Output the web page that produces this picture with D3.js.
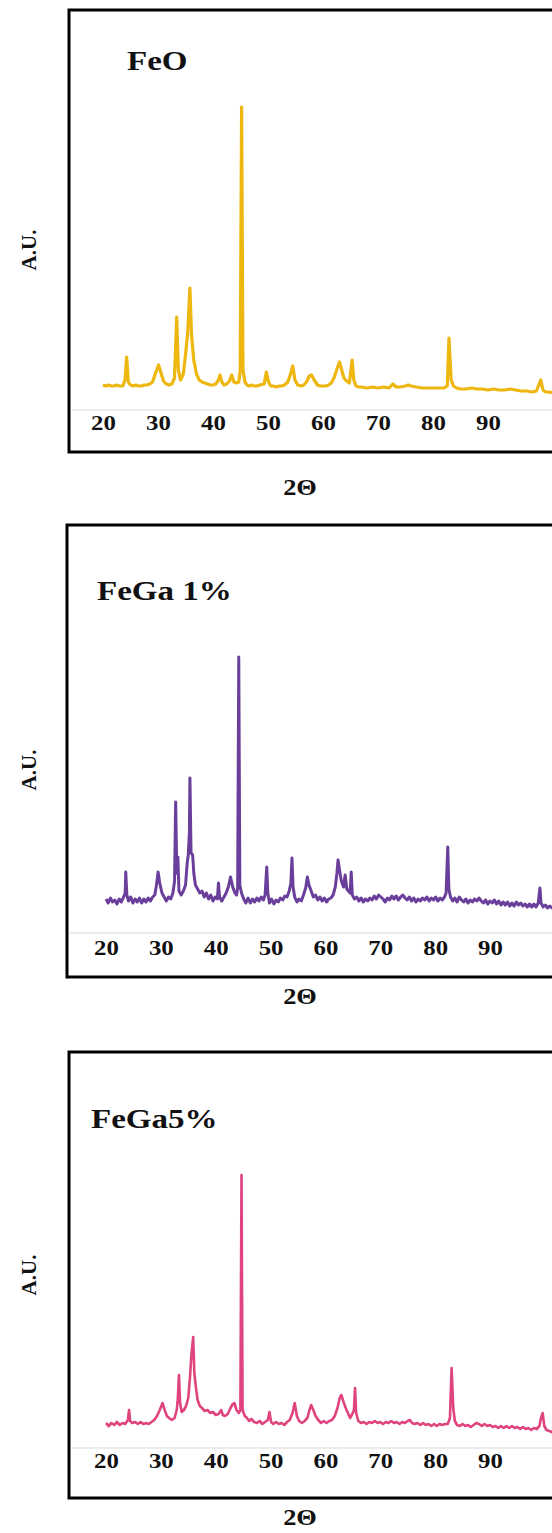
<!DOCTYPE html>
<html>
<head>
<meta charset="utf-8">
<script src="https://cdn.jsdelivr.net/npm/d3@7"></script>
<style>
  body { margin: 0; background: #fff; }
  svg { display: block; }
  .lbl { font-family: "Liberation Serif", "Times New Roman", serif; font-weight: bold; fill: #111; }
</style>
</head>
<body>
<div id="chart"></div>
<script>
// XRD patterns: [2theta, intensity (a.u.)]
const tickLabels = [20, 30, 40, 50, 60, 70, 80, 90];
const sampleNames = ["FeO", "FeGa 1%", "FeGa5%"];
const lineColors = ["#EEB710", "#6A3F9C", "#E0447F"];

const feO = [
  [20,25],[20.5,24],[21,25],[21.5,24],[22,24],[22.5,25],[23,24],[23.6,24],[24.0,30],[24.3,53],[24.6,28],[25,25],
  [25.5,24],[26,25],[26.5,24],[27,24],[27.5,25],[28,25],[28.5,26],[29,28],[29.5,36],[30.1,45],[30.6,36],[31,29],
  [31.5,26],[32,25],[32.5,26],[33.0,32],[33.4,93],[33.7,40],[34.1,30],[34.6,36],[35.0,55],[35.4,77],[35.8,122],
  [36.1,75],[36.5,50],[37,36],[37.5,30],[38,28],[38.5,27],[39,26],[39.5,25],[40,25],[40.5,26],[41.0,30],[41.3,35],
  [41.6,28],[42,25],[42.5,26],[43,29],[43.4,35],[43.8,28],[44.3,27],[44.7,28],[44.95,40],[45.2,303],[45.45,40],
  [45.8,28],[46.2,25],[46.6,24],[47,25],[47.5,24],[48,24],[48.5,25],[49.3,26],[49.7,38],[50.1,28],[50.5,24],[51,24],
  [51.5,23],[52,24],[52.5,24],[53,25],[53.6,28],[54.1,36],[54.5,44],[54.9,30],[55.4,25],[56,24],[56.5,25],[57,28],
  [57.5,34],[57.9,35],[58.4,30],[59,25],[59.5,24],[60,24],[60.5,24],[61,25],[61.5,27],[62,32],[62.6,42],[63.0,48],
  [63.4,40],[63.8,32],[64.3,29],[64.8,27],[65.3,50],[65.6,30],[66,24],[66.5,23],[67,23],[68,22],[69,23],[70,22],
  [71,23],[72,22],[72.7,26],[73.3,23],[74,23],[75,24],[75.5,25],[76,24],[77,23],[78,22],[79,22],[80,22],[81,22],
  [82,22],[82.6,24],[82.9,72],[83.3,30],[83.7,24],[84.3,22],[85,21],[86,21],[87,22],[88,21],[89,21],[90,20],[91,21],
  [92,20],[93,20],[94,21],[95,20],[96,19],[97,19],[98,18],[98.8,19],[99.3,26],[99.6,30],[100,20],[100.5,18],[101,18],
  [102,17],[103,17]
];

const feGa1 = [
  [20,34],[20.4,30],[20.8,35],[21.2,31],[21.6,33],[22,29],[22.4,34],[22.8,31],[23.2,36],[23.5,40],[23.6,61],[23.8,38],
  [24.1,32],[24.5,36],[24.9,30],[25.3,34],[25.7,31],[26.1,35],[26.5,30],[26.9,34],[27.3,31],[27.7,35],[28.1,32],
  [28.5,36],[28.9,38],[29.2,48],[29.5,61],[29.8,50],[30.2,40],[30.6,36],[31,32],[31.4,36],[31.8,34],[32.2,40],
  [32.5,52],[32.7,131],[32.9,60],[33.1,76],[33.3,42],[33.7,38],[34.1,42],[34.5,48],[34.8,70],[35.0,78],[35.2,100],
  [35.3,155],[35.5,80],[35.8,78],[36.0,60],[36.3,48],[36.7,44],[37.1,40],[37.5,42],[37.9,36],[38.3,40],[38.7,34],
  [39.1,38],[39.5,32],[39.9,36],[40.3,34],[40.5,50],[40.7,36],[41.1,32],[41.5,36],[41.9,40],[42.3,46],[42.7,56],
  [43.1,46],[43.5,40],[43.8,38],[44.0,45],[44.2,276],[44.4,48],[44.7,40],[45.1,34],[45.5,30],[45.9,35],[46.3,30],
  [46.7,34],[47.1,31],[47.5,35],[47.9,32],[48.3,36],[48.7,33],[49.0,38],[49.3,66],[49.5,40],[49.8,30],[50.2,34],
  [50.6,29],[51,33],[51.4,31],[51.8,35],[52.2,33],[52.6,37],[53,36],[53.4,42],[53.7,50],[53.9,75],[54.1,46],[54.4,36],
  [54.8,31],[55.2,34],[55.6,32],[56,38],[56.4,45],[56.7,56],[57.0,48],[57.4,42],[57.8,36],[58.2,38],[58.6,33],[59,36],
  [59.4,32],[59.8,35],[60.2,31],[60.6,34],[61,35],[61.4,38],[61.8,46],[62.1,60],[62.3,73],[62.6,62],[62.9,52],
  [63.3,46],[63.6,58],[63.9,44],[64.2,42],[64.5,40],[64.7,61],[64.9,38],[65.3,34],[65.7,36],[66.1,32],[66.5,35],
  [66.9,31],[67.3,34],[67.7,32],[68.1,35],[68.5,33],[68.9,37],[69.3,34],[69.7,38],[70.1,36],[70.5,34],[70.9,31],
  [71.3,35],[71.7,33],[72.1,37],[72.5,34],[72.9,37],[73.3,33],[73.7,36],[74.1,38],[74.5,35],[74.9,33],[75.3,36],
  [75.7,32],[76.1,35],[76.5,31],[76.9,34],[77.3,32],[77.7,35],[78.1,33],[78.5,36],[78.9,32],[79.3,35],[79.7,33],
  [80.1,36],[80.5,32],[80.9,35],[81.3,33],[81.7,36],[82.0,40],[82.3,86],[82.5,44],[82.8,36],[83.2,32],[83.6,35],
  [84,31],[84.4,36],[84.8,33],[85.2,31],[85.6,34],[86,30],[86.4,33],[86.8,31],[87.2,34],[87.6,32],[88,35],[88.4,32],
  [88.8,30],[89.2,33],[89.6,29],[90,32],[90.4,30],[90.8,33],[91.2,29],[91.6,32],[92,28],[92.4,31],[92.8,28],[93.2,31],
  [93.6,27],[94,30],[94.4,27],[94.8,31],[95.2,28],[95.6,30],[96,27],[96.4,29],[96.8,26],[97.2,29],[97.6,26],[98,29],
  [98.4,26],[98.8,30],[99.1,45],[99.3,30],[99.7,26],[100.1,28],[100.5,25],[100.9,27],[101.3,25],[101.7,27],[102.1,24],
  [102.5,26],[103,25]
];

const feGa5 = [
  [20,25],[20.5,22],[21,25],[21.5,23],[22,26],[22.5,23],[23,25],[23.5,24],[24.0,28],[24.2,38],[24.4,27],[24.8,25],
  [25.3,26],[25.8,24],[26.3,26],[26.8,24],[27.3,25],[27.8,24],[28.3,26],[28.8,28],[29.3,32],[29.8,38],[30.3,45],
  [30.7,38],[31.1,32],[31.5,30],[32,28],[32.5,30],[32.9,38],[33.1,50],[33.3,73],[33.5,45],[33.8,36],[34.2,38],
  [34.6,42],[35.0,50],[35.3,70],[35.6,95],[35.9,111],[36.1,75],[36.4,60],[36.7,48],[37.1,42],[37.5,40],[38,37],
  [38.5,38],[39,35],[39.5,36],[40,33],[40.5,34],[41.0,38],[41.3,33],[41.7,32],[42.2,34],[42.7,40],[43.1,44],[43.4,45],
  [43.8,38],[44.2,35],[44.5,38],[44.7,273],[44.9,38],[45.3,32],[45.7,30],[46.1,27],[46.5,29],[47,26],[47.5,25],
  [48,27],[48.5,24],[49,26],[49.5,28],[49.8,36],[50.1,26],[50.5,24],[51,26],[51.5,24],[52,25],[52.5,23],[53,26],
  [53.5,28],[54.0,35],[54.4,45],[54.8,32],[55.2,27],[55.7,25],[56.2,27],[56.7,30],[57.1,38],[57.4,43],[57.8,38],
  [58.2,32],[58.7,28],[59.2,25],[59.7,27],[60.2,25],[60.7,27],[61.2,28],[61.7,32],[62.2,40],[62.6,50],[62.9,53],
  [63.3,46],[63.7,40],[64.1,35],[64.5,30],[64.9,34],[65.2,38],[65.4,60],[65.6,35],[66,27],[66.5,25],[67,26],
  [67.5,24],[68,26],[68.5,25],[69,27],[69.5,25],[70,26],[70.5,24],[71,26],[71.5,25],[72,27],[72.5,25],[73,26],
  [73.5,24],[74,26],[74.5,25],[75,27],[75.4,28],[75.8,25],[76.3,24],[76.8,25],[77.3,23],[77.8,25],[78.3,23],
  [78.8,24],[79.3,22],[79.8,24],[80.3,22],[80.8,24],[81.3,23],[81.8,24],[82.3,24],[82.7,30],[83.0,80],[83.3,40],
  [83.6,27],[84,23],[84.5,22],[85,24],[85.5,22],[86,23],[86.5,21],[87,23],[87.5,25],[88,24],[88.5,22],[89,24],
  [89.5,22],[90,23],[90.5,21],[91,22],[91.5,20],[92,22],[92.5,20],[93,22],[93.5,20],[94,22],[94.5,20],[95,21],
  [95.5,19],[96,21],[96.5,19],[97,20],[97.5,18],[98,20],[98.5,19],[99.0,22],[99.3,30],[99.6,35],[99.9,22],
  [100.3,18],[100.8,17],[101.3,16],[101.8,12],[102.3,14],[103,16]
];

const series = [feO, feGa1, feGa5];

// page layout for each panel (pixels)
const panels = [
  { top: 10,   bottom: 452,  left: 69, grid: 410,  x20: 103, x90: 488, tickY: 20, nameX: 127, nameY: 70,   auY: 250,  titleY: 495,  width: 3.2 },
  { top: 525,  bottom: 977,  left: 67, grid: 933,  x20: 106, x90: 490, tickY: 22, nameX: 97,  nameY: 600,  auY: 770,  titleY: 1004, width: 3 },
  { top: 1052, bottom: 1498, left: 69, grid: 1448, x20: 106, x90: 490, tickY: 20, nameX: 91,  nameY: 1128, auY: 1275, titleY: 1525, width: 2.6 }
];

const W = 552, H = 1533;
const svg = d3.select("#chart").append("svg").attr("width", W).attr("height", H);

panels.forEach((p, i) => {
  const g = svg.append("g");

  const x = d3.scaleLinear().domain([20, 90]).range([p.x20, p.x90]);
  const y = d3.scaleLinear().domain([0, 300]).range([p.grid, p.grid - 300]);

  // light gridline at the bottom of the plot
  g.append("line")
    .attr("x1", p.left + 3).attr("x2", W)
    .attr("y1", p.grid).attr("y2", p.grid)
    .attr("stroke", "#d9d9d9").attr("stroke-width", 1);

  // tick labels
  const ax = g.append("g")
    .attr("transform", "translate(0," + p.grid + ")")
    .call(d3.axisBottom(x).tickValues(tickLabels).tickSize(0).tickFormat(d3.format("d")));
  ax.select(".domain").remove();
  ax.selectAll("text")
    .attr("class", "lbl")
    .attr("y", p.tickY).attr("dy", null)
    .attr("transform", "scale(1.13,1)")
    .style("font-size", "22px");

  const line = d3.line().x((d) => x(d[0])).y((d) => y(d[1]));
  g.append("path")
    .datum(series[i])
    .attr("d", line)
    .attr("fill", "none")
    .attr("stroke", lineColors[i])
    .attr("stroke-width", p.width)
    .attr("stroke-linejoin", "round");

  // frame (runs off the right edge like the original)
  g.append("rect")
    .attr("x", p.left).attr("y", p.top)
    .attr("width", 700).attr("height", p.bottom - p.top)
    .attr("fill", "none").attr("stroke", "#000").attr("stroke-width", 3);

  g.append("text")
    .attr("class", "lbl")
    .attr("transform", "translate(" + p.nameX + "," + p.nameY + ") scale(1.18,1)")
    .style("font-size", "28px")
    .text(sampleNames[i]);

  g.append("text")
    .attr("class", "lbl")
    .attr("transform", "translate(36," + p.auY + ") rotate(-90)")
    .attr("text-anchor", "middle")
    .style("font-size", "21px")
    .text("A.U.");

  g.append("text")
    .attr("class", "lbl")
    .attr("transform", "translate(300," + p.titleY + ") scale(1.1,1)")
    .attr("text-anchor", "middle")
    .style("font-size", "24px")
    .text("2\u0398");
});
</script>
</body>
</html>
